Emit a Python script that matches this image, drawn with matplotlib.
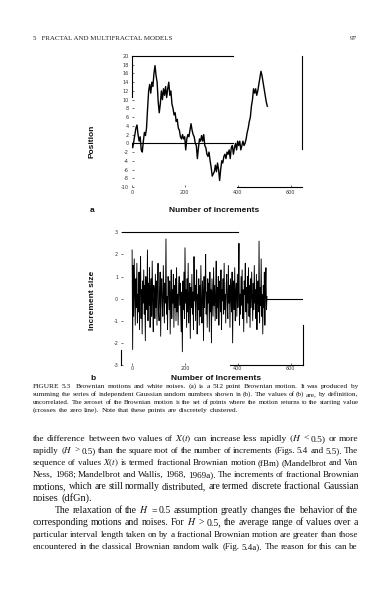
import numpy as np
import matplotlib
matplotlib.use("Agg")
import matplotlib.pyplot as plt

plt.rcParams['mathtext.fontset'] = 'stix'

# Brownian motion (a), read every 4th step
walk_values = [
    0, -1, 0.5, 2, 3.5, 4.2, 2, 0.5, 1.5, -1.5, -2, 0.5, 2.5, 1.8, 3.5, 8,
    12, 13.5, 11.5, 14, 13, 16, 17.8, 15.5, 14, 9.5, 7, 9, 12, 10, 12.5, 11,
    13, 10.5, 12.5, 14, 11, 12, 9, 8, 6.5, 7, 5, 5.5, 3.5, 3, 1.5, 1,
    2, 1, 1.5, -1.5, 1, 2, 1.5, 3, 4.5, 3, 2, 1.5, 0, -0.5, -3.5, -1,
    1, 0.5, 1.8, 0.5, 2, -0.5, -1, -2.5, -3, -2, -4, -5.5, -7.5, -7, -6.5, -5,
    -6.5, -4.5, -6, -8.5, -6, -4, -4.5, -3, -2.5, -3.5, -2, -2.5, -1.5, -3.5, -1, -0.5,
    -2.5, -1, 0, -1.5, 0.5, -0.5, 0.5, -1.5, -0.5, 0.5, -0.5, 0, 1, 2.5, 3.5, 5,
    6, 8.5, 10, 12.5, 11.5, 12.5, 11, 12, 13.5, 15, 16.5, 15.5, 14, 12.5, 11, 9.5,
    8.5,
]
walk_steps = np.arange(len(walk_values)) * 4

# Gaussian increments (b), read every 2nd step
noise_values = [
    2.2, -2.3, 1.5, -0.8, 1.8, 0.3, -1.2, 0.9, -0.4, 1.6, -1.1, 0.2, -0.6, 1.2, -1.4, 0.5,
    1.9, -0.9, 0.4, -1.6, 0.8, -0.2, 1.3, -0.7, 0.6, -1.9, 1.0, 0.1, -0.5, 2.2, -1.0, 0.7,
    -0.3, 1.4, -1.3, 0.2, 0.9, -0.8, 1.7, -0.1, -1.5, 0.6, 0.3, -0.9, 1.1, -0.4, 0.8, -1.2,
    0.5, 1.6, -0.6, -1.0, 0.3, 1.2, -1.7, 0.4, 0.9, -0.3, -0.8, 1.5, 0.2, -1.1, 0.7, -0.2,
    2.7, -0.7, 0.1, -1.4, 1.0, 0.6, -0.5, 0.8, -1.6, 0.3, 1.3, -0.9, 0.4, -0.2, 1.1, -1.3,
    0.6, -0.4, 0.9, -1.0, 1.4, -0.6, 0.2, -1.2, 0.5, 1.0, -0.3, 0.7, -0.8, -1.5, 0.3, -2.4,
    0.8, -0.5, 1.2, -0.9, 2.3, -0.2, 0.4, -1.3, 0.9, -0.6, 1.6, -1.1, 0.1, 0.7, -1.8, 0.5,
    -0.4, 1.1, -0.7, 0.3, -1.4, 1.9, -0.1, 0.6, -1.0, 0.4, 1.3, -1.6, 0.2, -0.5, 0.9, -1.2,
    0.6, -0.8, 1.5, -0.3, -1.1, 0.8, 0.2, -1.9, 1.0, -0.4, 0.5, 2.0, -0.7, 0.3, -1.3, 0.9,
    -0.2, 0.7, -1.5, 1.2, -0.6, 0.4, -2.0, 0.9, 0.1, -0.8, 1.4, -0.3, 0.6, -1.0, 0.2, 1.7,
    -0.9, 0.5, -0.4, 1.0, -1.2, 0.3, 0.8, -0.6, 1.3, -1.4, 0.4, -0.1, 0.9, -0.7, 1.6, -0.5,
    0.2, -1.1, 0.7, 1.1, -0.3, -0.9, 1.5, -0.2, 0.6, -1.3, 0.9, 0.1, -0.6, 1.2, -2.0, 0.4,
    0.8, -0.5, 1.4, -1.0, 0.3, 0.7, -0.8, 1.1, -0.4, 0.6, 2.5, -1.2, 0.2, -0.7, 1.0, -0.3,
    1.3, -0.9, 0.4, -1.5, 0.8, 0.2, 1.6, -0.6, 0.5, -1.1, 1.0, -0.2, 1.4, -0.8, 0.6, -1.3,
    0.9, -0.4, 1.2, 0.1, -1.0, 0.7, -0.5, 1.5, -0.2, 0.4, -0.9, 1.1, -1.4, 0.3, 0.8, -0.6,
    2.6, -1.1, 0.5, -0.3, 1.8, -0.8, 0.2, -1.6, 0.6, -0.4, 1.2, -1.2, 0.4, 1.4, -0.5, 0.1,
]
noise_steps = np.arange(len(noise_values)) * 2

x_ticks = [0, 200, 400, 600]
walk_ticks = list(range(-10, 21, 2))
noise_ticks = [-3, -2, -1, 0, 1, 2, 3]

header_left = "5   FRACTAL AND MULTIFRACTAL MODELS"
header_right = "97"

caption_lines = [
    "FIGURE 5.3  Brownian motions and white noises. (a) is a 512 point Brownian motion. It was produced by",
    "summing the series of independent Gaussian random numbers shown in (b). The values of (b) are, by definition,",
    "uncorrelated. The zeroset of the Brownian motion is the set of points where the motion returns to the starting value",
    "(crosses the zero line). Note that these points are discretely clustered.",
]

body_lines = [
    "the difference between two values of $X(t)$ can increase less rapidly $(H$ < 0.5) or more",
    "rapidly $(H$ > 0.5) than the square root of the number of increments (Figs. 5.4 and 5.5). The",
    "sequence of values $X(t)$ is termed fractional Brownian motion (fBm) (Mandelbrot and Van",
    "Ness, 1968; Mandelbrot and Wallis, 1968, 1969a). The increments of fractional Brownian",
    "motions, which are still normally distributed, are termed discrete fractional Gaussian",
    "noises (dfGn).",
    "The relaxation of the $H$ = 0.5 assumption greatly changes the behavior of the",
    "corresponding motions and noises. For $H$ > 0.5, the average range of values over a",
    "particular interval length taken on by a fractional Brownian motion are greater than those",
    "encountered in the classical Brownian random walk (Fig. 5.4a). The reason for this can be",
]

W, H = 390, 592
fig = plt.figure(figsize=(W / 100, H / 100), dpi=100)
fig.patch.set_facecolor('white')


def px_axes(left, top, right, bottom):
    return fig.add_axes([left / W, 1 - bottom / H, (right - left) / W, (bottom - top) / H])


def style_axes(ax, ticks_y, labels_y):
    ax.set_xticks(x_ticks)
    ax.set_xticklabels([str(t) for t in x_ticks])
    ax.set_yticks(ticks_y)
    ax.set_yticklabels(labels_y)
    ax.tick_params(direction='in', length=1.5, width=0.5, labelsize=3.5, pad=2, colors='#333333')
    for sp in ax.spines.values():
        sp.set_linewidth(0.8)


# (a) Brownian motion
ax1 = px_axes(131.7, 56, 302, 187)
ax1.plot(walk_steps, walk_values, color='black', lw=1.0)
ax1.plot([0, 382], [0, 0], color='black', lw=0.8)
ax1.set_xlim(0, 643)
ax1.set_ylim(-10, 20)
style_axes(ax1, walk_ticks, [str(t) for t in walk_ticks])
ax1.spines['left'].set_bounds(10.7, 20)
ax1.spines['top'].set_bounds(0, 382)
ax1.spines['right'].set_bounds(-1.2, 20)
ax1.spines['bottom'].set_bounds(397, 643)

# (b) white noise
ax2 = px_axes(121, 232.3, 302.7, 365)
ax2.plot(noise_steps, noise_values, color='black', lw=0.65)
ax2.plot([510, 645], [0, 0], color='black', lw=0.8)
ax2.set_xlim(-42, 645)
ax2.set_ylim(-3, 3)
style_axes(ax2, noise_ticks, [str(t) for t in noise_ticks])
ax2.tick_params(axis='x', pad=1)
ax2.spines['left'].set_bounds(-3, -2.3)
ax2.spines['top'].set_bounds(-38, 400)
ax2.spines['right'].set_bounds(-3, -1.2)
ax2.spines['bottom'].set_bounds(370, 645)

label_kw = dict(family='Liberation Sans', fontsize=6, fontweight='bold', color='#111111')
fig.text(92 / W, 1 - 141 / H, "Position", rotation=90, ha='center', va='center', **label_kw)
fig.text(92 / W, 1 - 300 / H, "Increment size", rotation=90, ha='center', va='center', **label_kw)
fig.text(92 / W, 1 - 210 / H, "a", ha='center', va='center', **label_kw)
fig.text(214 / W, 1 - 210 / H, "Number of increments", ha='center', va='center', **label_kw)
fig.text(93 / W, 1 - 378 / H, "b", ha='center', va='center', **label_kw)
fig.text(216 / W, 1 - 378 / H, "Number of Increments", ha='center', va='center', **label_kw)

renderer = fig.canvas.get_renderer()


def put_line(line, x0, x1, y, size, justify=True):
    words = line.split(' ')
    texts = [fig.text(0, 1 - y / H, w, family='Liberation Serif', fontsize=size,
                      va='baseline', ha='left', color='#111111') for w in words]
    widths = [t.get_window_extent(renderer).width for t in texts]
    space = size * 0.25 * 100 / 72
    need = sum(widths) + space * (len(words) - 1)
    if need > x1 - x0:
        # shrink the line so it still fits the measure
        k = (x1 - x0) / need
        for t in texts:
            t.set_fontsize(size * k)
        widths = [w * k for w in widths]
        space *= k
    if justify and len(words) > 1:
        gap = (x1 - x0 - sum(widths)) / (len(words) - 1)
    else:
        gap = space
    x = x0
    for t, w in zip(texts, widths):
        t.set_x(x / W)
        x += w + gap


fig.text(33 / W, 1 - 40 / H, header_left, family='Liberation Serif', fontsize=5,
         va='baseline', color='#222222')
fig.text(357 / W, 1 - 40 / H, header_right, family='Liberation Serif', fontsize=5.2,
         va='baseline', ha='right', color='#222222')

for i, line in enumerate(caption_lines):
    put_line(line, 33, 358, 388 + i * 8, 5.3, justify=(i < len(caption_lines) - 1))

for i, line in enumerate(body_lines):
    x0 = 55 if i == 6 else 33
    put_line(line, x0, 358, 441 + i * 12, 7.5, justify=(i != 5))

fig.savefig("out.png", dpi=100, facecolor='white')
